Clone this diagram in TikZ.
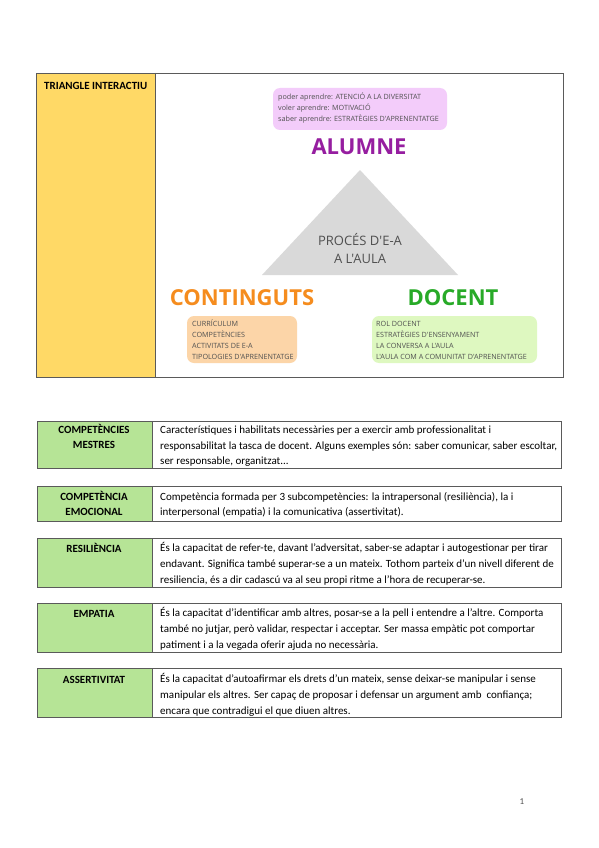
\documentclass[tikz,border=0pt]{standalone}
\usepackage{fontspec}
\setmainfont{Carlito}
\newfontfamily\osans{Open Sans}
\definecolor{bordergray}{RGB}{90,90,90}
\definecolor{yellowcell}{RGB}{255,217,102}
\definecolor{greencell}{RGB}{182,228,150}
\definecolor{pinkbub}{RGB}{243,204,250}
\definecolor{orangebub}{RGB}{252,213,168}
\definecolor{greenbub}{RGB}{222,248,192}
\definecolor{trigray}{RGB}{217,217,217}
\definecolor{alumnecol}{RGB}{150,30,160}
\definecolor{contcol}{RGB}{245,140,30}
\definecolor{docentcol}{RGB}{40,170,40}
\definecolor{txtgray}{RGB}{80,80,80}
\tikzset{
  cell/.style={draw=bordergray, line width=0.9pt},
  bubble/.style={rounded corners=7pt, draw=none},
  bubtext/.style={font=\osans\fontsize{7.2}{10.8}\selectfont, text=txtgray, align=left, inner sep=0pt, anchor=north west},
  title/.style={font=\osans\bfseries\fontsize{22}{24}\selectfont},
  lbl/.style={font=\bfseries\fontsize{11}{15}\selectfont, align=center, inner sep=0pt, anchor=north},
  body/.style={font=\fontsize{11}{15.6}\selectfont, align=left, inner sep=0pt, anchor=north west},
}
\begin{document}
\begin{tikzpicture}[x=1pt,y=-1pt]
\useasboundingbox (0,0) rectangle (599,848);
\fill[white] (0,0) rectangle (599,848);
% top table
\fill[yellowcell] (36,73) rectangle (155,377);
\draw[cell] (36,73) rectangle (563,377);
\draw[cell] (155,73) -- (155,377);
\node[font=\bfseries\fontsize{11}{13}\selectfont, anchor=north west, inner sep=0pt] (tri) at (44,82.5) {TRIANGLE INTERACTIU};
% pink bubble
\fill[pinkbub, bubble] (273,88) rectangle (447,130);
\node[bubtext] (pinkt) at (278,93) {poder aprendre: ATENCIÓ A LA DIVERSITAT\\voler aprendre: MOTIVACIÓ\\saber aprendre: ESTRATÈGIES D'APRENENTATGE};
\node[title, text=alumnecol] (alumne) at (359,147) {ALUMNE};
% triangle
\fill[trigray] (360,170) -- (458,275) -- (262,275) -- cycle;
\node[font=\osans\fontsize{13}{18}\selectfont, text=txtgray, align=center] (proc) at (360,249) {PROCÉS D'E-A\\A L'AULA};
\node[title, text=contcol] (cont) at (242,298) {CONTINGUTS};
\node[title, text=docentcol] (doc) at (453,298) {DOCENT};
% orange bubble
\fill[orangebub, bubble] (187,316) rectangle (297,363);
\node[bubtext] (oranget) at (192,320) {CURRÍCULUM\\COMPETÈNCIES\\ACTIVITATS DE E-A\\TIPOLOGIES D'APRENENTATGE};
% green bubble
\fill[greenbub, bubble] (372,316) rectangle (537,363);
\node[bubtext] (greent) at (376,321.5) {ROL DOCENT\\ESTRATÈGIES D'ENSENYAMENT\\LA CONVERSA A L'AULA\\L'AULA COM A COMUNITAT D'APRENENTATGE};
% lower tables
\foreach \t/\b in {421/468, 486/521, 538/587, 603/652, 668/717}{
  \fill[greencell] (37,\t) rectangle (152,\b);
  \draw[cell] (37,\t) rectangle (561,\b);
  \draw[cell] (152,\t) -- (152,\b);
}
\node[lbl] (l1) at (94,424.5) {COMPETÈNCIES\\MESTRES};
\node[body] (b1) at (160,425.9) {Característiques i habilitats necessàries per a exercir amb professionalitat i\\responsabilitat la tasca de docent. Alguns exemples són: saber comunicar, saber escoltar,\\ser responsable, organitzat...};
\node[lbl] (l2) at (94,491.5) {COMPETÈNCIA\\EMOCIONAL};
\node[body] (b2) at (160,491.9) {Competència formada per 3 subcompetències: la intrapersonal (resiliència), la i\\interpersonal (empatia) i la comunicativa (assertivitat).};
\node[lbl] (l3) at (94,543.5) {RESILIÈNCIA};
\node[body] (b3) at (160,542.5) {És la capacitat de refer-te, davant l'adversitat, saber-se adaptar i autogestionar per tirar\\endavant. Significa també superar-se a un mateix. Tothom parteix d'un nivell diferent de\\resiliencia, és a dir cadascú va al seu propi ritme a l'hora de recuperar-se.};
\node[lbl] (l4) at (94,610.5) {EMPATIA};
\node[body] (b4) at (160,607.5) {És la capacitat d'identificar amb altres, posar-se a la pell i entendre a l'altre. Comporta\\també no jutjar, però validar, respectar i acceptar. Ser massa empàtic pot comportar\\patiment i a la vegada oferir ajuda no necessària.};
\node[lbl] (l5) at (94,676.5) {ASSERTIVITAT};
\node[body] (b5) at (160,673.5) {És la capacitat d'autoafirmar els drets d'un mateix, sense deixar-se manipular i sense\\manipular els altres. Ser capaç de proposar i defensar un argument amb \ confiança;\\encara que contradigui el que diuen altres.};
\node[font=\fontsize{9}{11}\selectfont, text=txtgray] (pg) at (522,802) {1};
\end{tikzpicture}
\end{document}
